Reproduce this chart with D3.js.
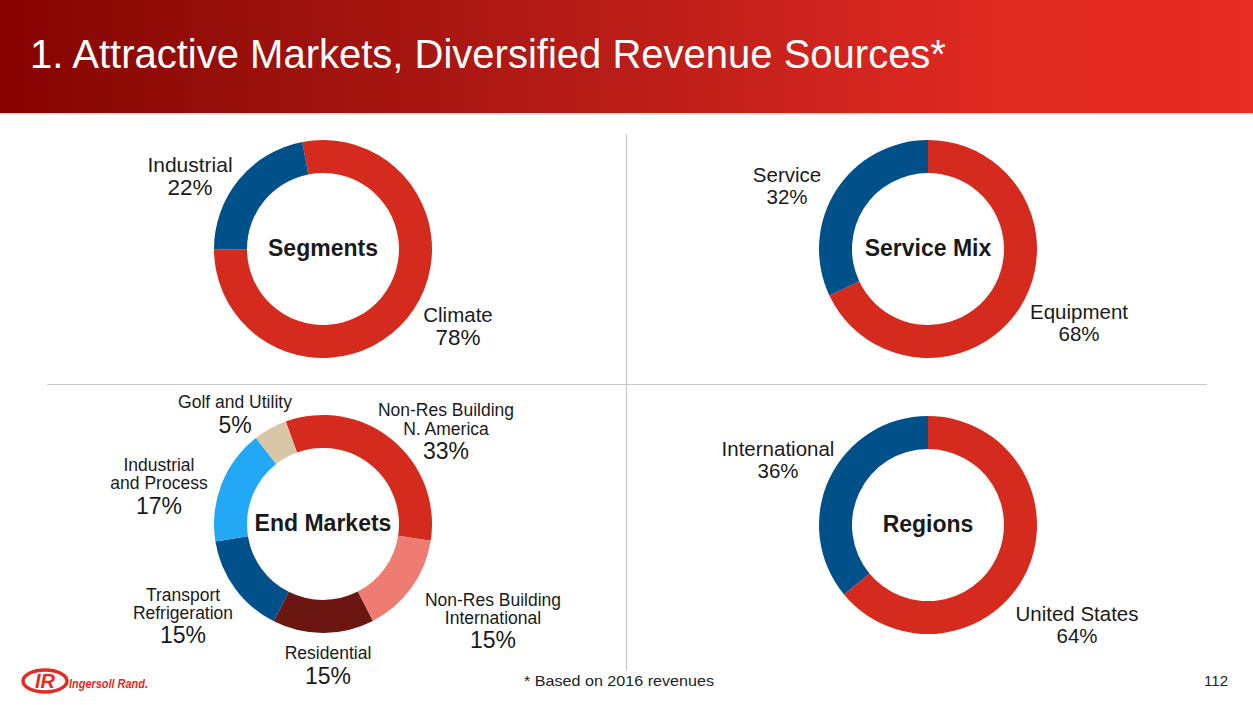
<!DOCTYPE html>
<html><head><meta charset="utf-8">
<script src="https://cdn.jsdelivr.net/npm/d3@7"></script>
<style>
html,body{margin:0;padding:0;background:#fff;}
svg{display:block;font-family:"Liberation Sans",Arial,Helvetica,sans-serif;}
</style></head>
<body>
<svg id="c" width="1253" height="705"></svg>
<script>
// ---- data ----
const title = "1. Attractive Markets, Diversified Revenue Sources*";
const footnote = "* Based on 2016 revenues";
const pageNumber = "112";

const segmentsNames = ["Climate", "Industrial"];
const segmentsValues = [78, 22];

const serviceNames = ["Equipment", "Service"];
const serviceValues = [68, 32];

const endMarketNames = ["Non-Res Building N. America", "Non-Res Building International", "Residential", "Transport Refrigeration", "Industrial and Process", "Golf and Utility"];
const endMarketValues = [33, 15, 15, 15, 17, 5];

const regionNames = ["United States", "International"];
const regionValues = [64, 36];

// ---- styles ----
const RED = "#d52b1e", BLUE = "#00508a";
const svg = d3.select("#c");

// title bar gradient
const defs = svg.append("defs");
const g = defs.append("linearGradient").attr("id","tb").attr("x1","0").attr("x2","1").attr("y1","0").attr("y2","0");
g.append("stop").attr("offset","0").attr("stop-color","#870000");
g.append("stop").attr("offset","0.08").attr("stop-color","#8c0a05");
g.append("stop").attr("offset","0.45").attr("stop-color","#b41b16");
g.append("stop").attr("offset","0.8").attr("stop-color","#e02a22");
g.append("stop").attr("offset","1").attr("stop-color","#e62c23");
svg.append("rect").attr("x",0).attr("y",0).attr("width",1253).attr("height",113).attr("fill","url(#tb)");
svg.append("rect").attr("x",0).attr("y",113).attr("width",1253).attr("height",2).attr("fill","#e4e4e4");
svg.append("text").attr("x",30).attr("y",68).attr("fill","#fff").attr("font-size",40).text(title);

// divider lines
svg.append("line").attr("x1",626.5).attr("x2",626.5).attr("y1",134).attr("y2",670).attr("stroke","#c8c8c8").attr("stroke-width",1.2);
svg.append("line").attr("x1",47).attr("x2",1207).attr("y1",384.5).attr("y2",384.5).attr("stroke","#c8c8c8").attr("stroke-width",1.2);

const arc = d3.arc().innerRadius(76).outerRadius(109);
const deg = Math.PI/180;

function donut(cx, cy, values, colors, startDeg, center, labels) {
  const pie = d3.pie().sort(null).startAngle(startDeg*deg).endAngle((startDeg+360)*deg);
  const gg = svg.append("g").attr("transform",`translate(${cx},${cy})`);
  gg.selectAll("path").data(pie(values)).join("path").attr("d",arc).attr("fill",(d,i)=>colors[i]);
  svg.append("text").attr("x",cx).attr("y",cy+7).attr("text-anchor","middle").attr("font-weight","bold").attr("font-size",23).attr("fill","#1a1a1a").text(center);
  labels.forEach(l => {
    l.lines.forEach((s,k)=>{
      svg.append("text").attr("text-anchor","middle").attr("fill","#1a1a1a")
        .attr("x",l.x).attr("y",l.y[k]).attr("font-size",l.fs[k]).text(s);
    });
  });
}

// Segments
donut(323, 249, segmentsValues, [RED, BLUE], -11, "Segments", [
  {x:458, y:[322,345], fs:[20.5,22.5], lines:[segmentsNames[0], segmentsValues[0]+"%"]},
  {x:190, y:[172,195], fs:[21,22.5], lines:[segmentsNames[1], segmentsValues[1]+"%"]}
]);

// Service Mix
donut(928, 249, serviceValues, [RED, BLUE], 0, "Service Mix", [
  {x:1079, y:[319,341], fs:[20.5,20.5], lines:[serviceNames[0], serviceValues[0]+"%"]},
  {x:787, y:[182,204], fs:[20.5,20.5], lines:[serviceNames[1], serviceValues[1]+"%"]}
]);

// End Markets
donut(323, 524, endMarketValues, [RED, "#ee7c73", "#6b1610", BLUE, "#23a8f6", "#d9c6a6"], -20, "End Markets", [
  {x:446, y:[416,435,459], fs:[17.5,17.5,23], lines:["Non-Res Building","N. America", endMarketValues[0]+"%"]},
  {x:493, y:[606,624,648], fs:[17.5,17.5,23], lines:["Non-Res Building","International", endMarketValues[1]+"%"]},
  {x:328, y:[659,684], fs:[17.5,23], lines:[endMarketNames[2], endMarketValues[2]+"%"]},
  {x:183, y:[601,619,643], fs:[17.5,17.5,23], lines:["Transport","Refrigeration", endMarketValues[3]+"%"]},
  {x:159, y:[471,489,514], fs:[17.5,17.5,23], lines:["Industrial","and Process", endMarketValues[4]+"%"]},
  {x:235, y:[408,433], fs:[17.5,23], lines:[endMarketNames[5], endMarketValues[5]+"%"]}
]);

// Regions
donut(928, 525, regionValues, [RED, BLUE], 0, "Regions", [
  {x:1077, y:[621,643], fs:[20.5,20.5], lines:[regionNames[0], regionValues[0]+"%"]},
  {x:778, y:[456,478], fs:[20.5,20.5], lines:[regionNames[1], regionValues[1]+"%"]}
]);

// footer
svg.append("text").attr("x",524).attr("y",686).attr("font-size",15).attr("textLength",190).attr("lengthAdjust","spacingAndGlyphs").attr("fill","#222").text(footnote);
svg.append("text").attr("x",1228).attr("y",686).attr("text-anchor","end").attr("font-size",15).attr("fill","#222").text(pageNumber);

// logo
const logo = svg.append("g");
logo.append("ellipse").attr("cx",45).attr("cy",681).attr("rx",22).attr("ry",11).attr("fill","none").attr("stroke","#e32b24").attr("stroke-width",3.5);
logo.append("text").attr("x",45).attr("y",688).attr("text-anchor","middle").attr("font-size",20).attr("font-weight","bold").attr("font-style","italic").attr("fill","#e32b24").text("IR");
logo.append("text").attr("x",69).attr("y",688).attr("font-size",13).attr("textLength",79).attr("lengthAdjust","spacingAndGlyphs").attr("font-weight","bold").attr("font-style","italic").attr("fill","#e32b24").text("Ingersoll Rand.");
</script>
</body></html>
